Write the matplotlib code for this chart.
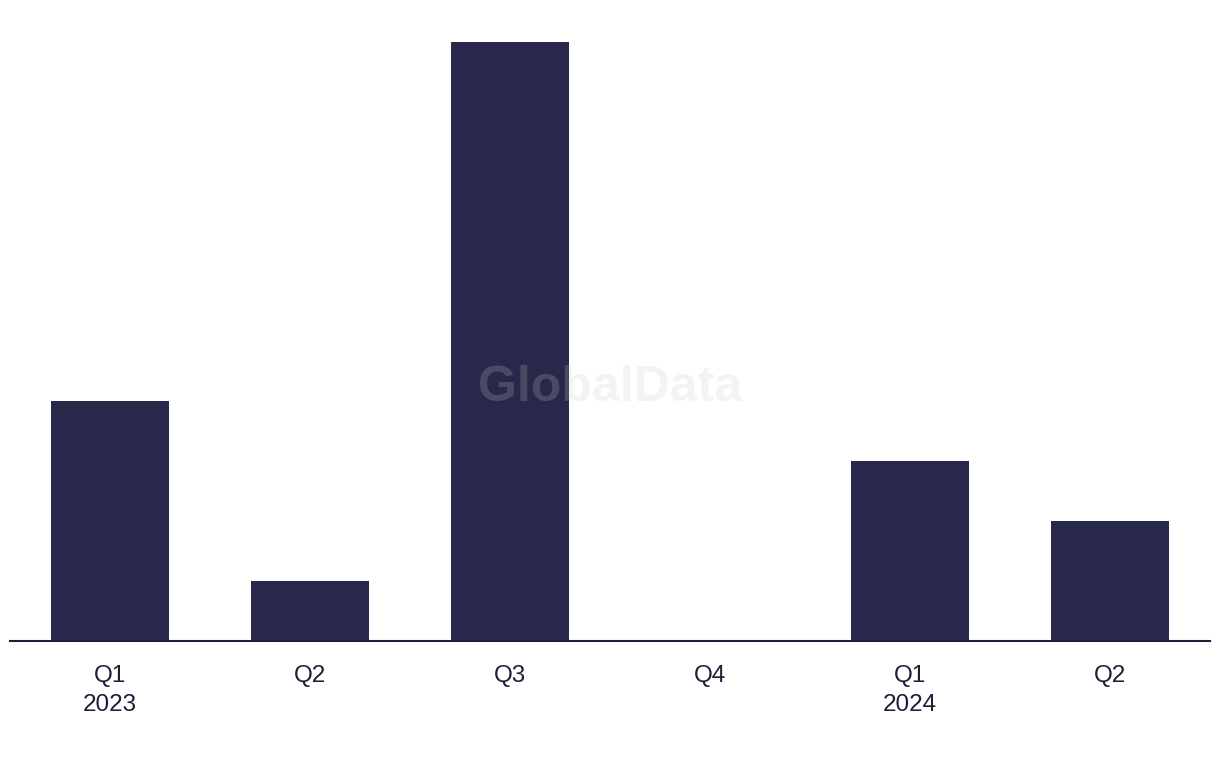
import matplotlib
matplotlib.use("Agg")
import matplotlib.pyplot as plt

categories = ["Q1\n2023", "Q2", "Q3", "Q4", "Q1\n2024", "Q2"]
values = [4, 1, 10, 0, 3, 2]

bar_color = "#28284a"
text_color = "#1e1e36"

W, H = 1220, 768
fig = plt.figure(figsize=(W / 100, H / 100), dpi=100)
ax = fig.add_axes([10 / W, (H - 641) / H, 1200 / W, (641 - 42) / H])

x = list(range(len(categories)))
ax.bar(x, values, width=0.59, color=bar_color, zorder=2)
ax.set_xlim(-0.5, len(categories) - 0.5)
ax.set_ylim(0, 10)
ax.set_xticks(x)
ax.set_xticklabels(categories, fontsize=17.5, color=text_color,
                   family="Liberation Sans", linespacing=1.38)
ax.tick_params(axis="x", length=0, pad=17.5)
ax.set_yticks([])
for s in ["top", "right", "left"]:
    ax.spines[s].set_visible(False)
ax.spines["bottom"].set_color(text_color)
ax.spines["bottom"].set_linewidth(1.5)
ax.spines["bottom"].set_zorder(3)

fig.text(610 / W, 1 - 388 / H, "GlobalData", ha="center", va="center",
         fontsize=36, fontweight="bold", family="Liberation Sans",
         color="#cacaca", alpha=0.21, zorder=10)

fig.savefig("out.png", dpi=100, facecolor="white")
